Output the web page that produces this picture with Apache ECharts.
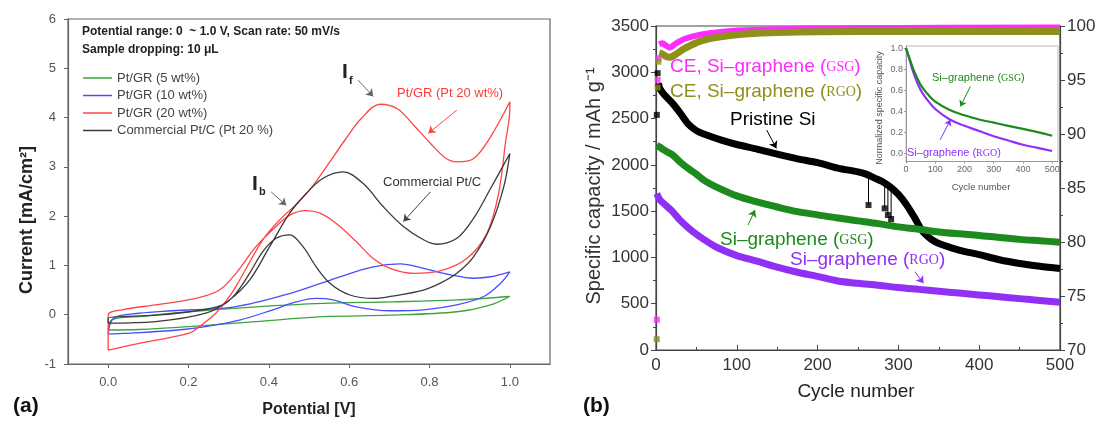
<!DOCTYPE html>
<html><head><meta charset="utf-8">
<script src="https://cdn.jsdelivr.net/npm/echarts@6/dist/echarts.min.js"></script>
<style>html,body{margin:0;padding:0;background:#fff}#c{width:1099px;height:421px}</style>
</head><body><div id="c"></div>
<script>
// ---------- Panel (a): cyclic voltammograms [potential V, current mA/cm2] ----------
const pt5Fwd  = [[0,-0.31],[0.01,-0.1],[0.077,-0.04],[0.202,0.06],[0.368,0.16],[0.535,0.23],[0.702,0.26],[0.868,0.30],[1.0,0.37]];
const pt5Rev  = [[0.952,0.20],[0.868,0.06],[0.702,-0.01],[0.535,-0.04],[0.368,-0.14],[0.202,-0.24],[0.077,-0.30],[0,-0.31]];
const pt10Fwd = [[0,-0.39],[0.014,-0.07],[0.077,0.03],[0.16,0.08],[0.315,0.16],[0.452,0.43],[0.577,0.77],[0.66,0.97],[0.727,1.03],[0.785,0.94],[0.852,0.81],[0.91,0.74],[0.952,0.77],[1.0,0.87]];
const pt10Rev = [[0.977,0.64],[0.935,0.37],[0.868,0.20],[0.785,0.10],[0.702,0.08],[0.618,0.16],[0.56,0.30],[0.518,0.33],[0.468,0.26],[0.41,0.10],[0.327,-0.11],[0.243,-0.24],[0.16,-0.32],[0.035,-0.38],[0,-0.39]];
const pt20Fwd = [[0,-0.72],[0.077,-0.58],[0.2,-0.38],[0.227,-0.24],[0.268,0.03],[0.302,0.37],[0.327,0.70],[0.385,1.52],[0.43,1.95],[0.47,2.25],[0.51,2.62],[0.55,3.08],[0.59,3.55],[0.63,3.98],[0.677,4.27],[0.72,4.18],[0.76,3.85],[0.802,3.48],[0.84,3.18],[0.868,3.10],[0.91,3.17],[0.952,3.61],[1.0,4.32]];
const pt20Rev = [[1.0,4.19],[0.989,3.48],[0.972,2.46],[0.943,1.65],[0.893,1.14],[0.827,0.89],[0.76,0.84],[0.702,0.94],[0.66,1.14],[0.618,1.48],[0.568,1.85],[0.527,2.06],[0.49,2.11],[0.452,2.02],[0.418,1.79],[0.368,1.38],[0.318,0.84],[0.277,0.50],[0.218,0.33],[0.118,0.20],[0.035,0.10],[0,-0.01],[0,-0.72]];
const ptcFwd  = [[0,-0.17],[0.118,-0.14],[0.243,0.03],[0.302,0.30],[0.352,0.70],[0.402,1.38],[0.452,2.06],[0.493,2.46],[0.535,2.77],[0.585,2.90],[0.635,2.66],[0.685,2.19],[0.735,1.79],[0.785,1.52],[0.818,1.43],[0.868,1.55],[0.91,1.96],[0.952,2.56],[1.0,3.27]];
const ptcRev  = [[0.985,2.60],[0.952,1.79],[0.91,1.18],[0.868,0.84],[0.827,0.64],[0.785,0.50],[0.702,0.37],[0.66,0.33],[0.602,0.40],[0.552,0.64],[0.518,0.97],[0.485,1.38],[0.452,1.62],[0.418,1.55],[0.385,1.28],[0.352,0.84],[0.318,0.43],[0.285,0.20],[0.202,0.06],[0.118,-0.01],[0,-0.07],[0,-0.17]];
const cvNames = ['Pt/GR (5 wt%)','Pt/GR (10 wt%)','Pt/GR (20 wt%)','Commercial Pt/C (Pt 20 %)'];
const cvXTicks = [0,0.2,0.4,0.6,0.8,1.0];

// ---------- Panel (b): cycling [cycle, capacity mAh/g] and CE [cycle, %] ----------
const pristineSi   = [[3,2880],[5,2820],[10,2760],[20,2670],[30,2560],[40,2440],[50,2370],[60,2330],[80,2270],[100,2220],[125,2170],[150,2115],[175,2065],[200,2025],[225,1965],[250,1925],[260,1900],[270,1860],[280,1820],[290,1760],[300,1680],[310,1570],[320,1430],[330,1280],[340,1200],[350,1150],[375,1080],[400,1030],[425,975],[450,935],[475,905],[500,880]];
const pristineEarly = [[1,2540],[2,2990]];
const pristineDrops = [[263,1880,1566],[283,1805,1530],[287,1785,1458],[291,1755,1415]]; // [cycle, band value, dropped value]
const siGSG = [[1,2210],[5,2190],[10,2160],[20,2110],[30,2030],[40,1960],[50,1900],[60,1830],[75,1760],[100,1665],[125,1600],[150,1545],[175,1495],[200,1460],[225,1425],[250,1395],[275,1365],[300,1330],[325,1305],[350,1275],[375,1255],[400,1238],[425,1215],[450,1195],[475,1180],[500,1165]];
const siRGO = [[1,1690],[5,1620],[10,1580],[20,1500],[30,1400],[40,1320],[50,1250],[60,1190],[75,1110],[100,1020],[125,960],[150,895],[175,840],[200,795],[225,745],[250,720],[275,700],[300,675],[325,655],[350,635],[375,615],[400,595],[425,575],[450,555],[475,535],[500,515]];
const ceGSG = [[4,98.3],[8,98.4],[12,98.2],[17,98.0],[25,98.4],[35,98.8],[55,99.2],[80,99.45],[110,99.6],[150,99.7],[250,99.8],[500,99.85]];
const ceGSGEarly = [[1,72.8],[2,95.0],[3,97.0]];
const ceRGO = [[4,97.5],[8,97.4],[12,97.2],[17,97.1],[25,97.4],[35,97.9],[55,98.6],[80,99.0],[110,99.25],[150,99.4],[250,99.5],[500,99.5]];
const ceRGOEarly = [[1,71.0],[2,94.3],[3,96.7]];

// ---------- Inset: normalized capacity ----------
const insetCycles = [0,10,25,50,75,100,150,200,250,300,350,400,450,500];
const insetGSG = [1.0,0.92,0.80,0.65,0.56,0.49,0.41,0.36,0.32,0.29,0.26,0.23,0.20,0.165];
const insetRGO = [1.0,0.91,0.77,0.60,0.50,0.42,0.32,0.26,0.21,0.16,0.12,0.08,0.05,0.02];
const insetTicksY = [0,0.2,0.4,0.6,0.8,1.0];
const insetTicksX = [0,100,200,300,400,500];

const FONT = '"Liberation Sans", Arial, Helvetica, sans-serif';
const C = {green:'#3aa53a', blue:'#4b4bff', red:'#ff4545', black:'#3a3a3a',
  magenta:'#ff2cff', olive:'#8f8f1c', dgreen:'#1c8a1c', purple:'#9030f5'};

const zip = (xs, ys) => xs.map((x,i)=>[x, ys[i]]);
const spikes = [];
pristineDrops.forEach(d => { spikes.push([d[0], d[1]], [d[0], d[2]], [d[0], '-']); });

function txt(x, y, text, o) {
  const r = {type:'text', x, y, z:100, silent:true,
    style: Object.assign({text, fill:'#222', fontSize:13, fontFamily:FONT, align:'left', verticalAlign:'middle'}, o || {})};
  if (o && o.rotation !== undefined) { r.rotation = o.rotation; delete r.style.rotation; }
  return r;
}
function rich(main, sc, color, size, scSize) {
  return {text: '{a|' + main + '}{b|' + sc + '}{a|)}', fill: color,
    rich: {a:{fontSize:size, fontFamily:FONT, fill:color}, b:{fontSize:scSize, fontFamily:'"Liberation Serif", "DejaVu Serif", serif', fill:color}}};
}
const arrow = (p1, p2, color) => [{coord:p1, lineStyle:{color, width:1, type:'solid'}}, {coord:p2}];

const cvLine = (name, data, color) => ({
  name, type:'line', xAxisIndex:0, yAxisIndex:0, data, smooth:0.35, showSymbol:false,
  lineStyle:{color, width:1.3}, itemStyle:{color}, z:3
});
const band = (name, data, color, yIdx, w) => ({
  name, type:'line', xAxisIndex:1, yAxisIndex:yIdx, data, smooth:0.3, showSymbol:false,
  lineStyle:{color, width:w || 7}, itemStyle:{color}, z:3
});
const dots = (name, data, color, yIdx) => ({
  name, type:'scatter', xAxisIndex:1, yAxisIndex:yIdx, data, symbol:'rect', symbolSize:6,
  itemStyle:{color}, z:4
});
const plain = v => String(v);

const chart = echarts.init(document.getElementById('c'));
chart.setOption({
  animation:false,
  backgroundColor:'#fff',
  textStyle:{fontFamily:FONT},
  grid:[
    {left:68, top:19, width:482, height:345, show:true, borderColor:'#666', borderWidth:1.2, backgroundColor:'transparent'},
    {left:656, top:26, width:404, height:324, show:true, borderColor:'#444', borderWidth:1.2, backgroundColor:'transparent'},
    {left:906, top:46, width:152, height:115.5, show:true, borderColor:'#bbb', borderWidth:1, backgroundColor:'#fff', z:5}
  ],
  legend:{data:cvNames, orient:'vertical', left:78, top:66, icon:'rect', itemWidth:29, itemHeight:1.5, itemGap:3.5,
    selectedMode:false, textStyle:{fontSize:13, color:'#444', fontFamily:FONT, lineHeight:14}},
  xAxis:[
    {gridIndex:0, type:'value', min:-0.1, max:1.1,
      axisLine:{show:true, onZero:false, lineStyle:{color:'#666', width:1.2}},
      axisTick:{show:true, customValues:cvXTicks, length:4, lineStyle:{color:'#666'}},
      axisLabel:{customValues:cvXTicks, formatter:v=>Number(v).toFixed(1), color:'#555', fontSize:13, margin:12, fontFamily:FONT},
      splitLine:{show:false}},
    {gridIndex:1, type:'value', min:0, max:500, interval:100,
      axisLine:{show:true, onZero:false, lineStyle:{color:'#444', width:1.2}},
      axisTick:{show:true, inside:true, length:5, lineStyle:{color:'#444'}},
      minorTick:{show:true, splitNumber:2, length:3, lineStyle:{color:'#444'}},
      axisLabel:{color:'#333', fontSize:17, margin:7, fontFamily:FONT, formatter:plain},
      splitLine:{show:false}},
    {gridIndex:2, type:'value', min:0, max:520, z:6,
      axisLine:{show:true, onZero:false, lineStyle:{color:'#999'}},
      axisTick:{show:true, customValues:insetTicksX, length:2, lineStyle:{color:'#999'}},
      axisLabel:{customValues:insetTicksX, color:'#666', fontSize:9, margin:4, fontFamily:FONT, formatter:plain},
      splitLine:{show:false}}
  ],
  yAxis:[
    {gridIndex:0, type:'value', min:-1, max:6, interval:1,
      axisLine:{show:true, onZero:false, lineStyle:{color:'#666', width:1.2}},
      axisTick:{show:true, length:4, lineStyle:{color:'#666'}},
      axisLabel:{color:'#555', fontSize:13, margin:12, fontFamily:FONT},
      splitLine:{show:false}},
    {gridIndex:1, type:'value', min:0, max:3500, interval:500,
      axisLine:{show:true, onZero:false, lineStyle:{color:'#444', width:1.2}},
      axisTick:{show:true, length:5, lineStyle:{color:'#444'}},
      minorTick:{show:true, splitNumber:2, length:3, lineStyle:{color:'#444'}},
      axisLabel:{color:'#333', fontSize:17, margin:7, fontFamily:FONT, formatter:plain},
      splitLine:{show:false}},
    {gridIndex:1, type:'value', position:'right', min:70, max:100, interval:5,
      axisLine:{show:true, onZero:false, lineStyle:{color:'#444', width:1.2}},
      axisTick:{show:true, length:5, lineStyle:{color:'#444'}},
      minorTick:{show:true, splitNumber:2, length:3, lineStyle:{color:'#444'}},
      axisLabel:{color:'#333', fontSize:17, margin:7, fontFamily:FONT, formatter:plain},
      splitLine:{show:false}},
    {gridIndex:2, type:'value', min:-0.08, max:1.02, z:6,
      axisLine:{show:true, onZero:false, lineStyle:{color:'#999'}},
      axisTick:{show:true, customValues:insetTicksY, length:2, lineStyle:{color:'#999'}},
      axisLabel:{customValues:insetTicksY, formatter:v=>Number(v).toFixed(1), color:'#666', fontSize:9, margin:3, fontFamily:FONT},
      splitLine:{show:false}}
  ],
  series:[
    Object.assign(cvLine(cvNames[0], pt5Fwd.concat(pt5Rev), C.green), {
      markLine:{silent:true, symbol:['none','arrow'], symbolSize:7, animation:false, label:{show:false},
        data:[
          arrow([0.622,4.76],[0.66,4.43],'#666'),
          arrow([0.868,4.15],[0.797,3.68],C.red),
          arrow([0.406,2.49],[0.4435,2.22],'#666'),
          arrow([0.802,2.49],[0.735,1.89],'#444')
        ]}
    }),
    cvLine(cvNames[1], pt10Fwd.concat(pt10Rev), C.blue),
    cvLine(cvNames[2], pt20Fwd.concat(pt20Rev), C.red),
    cvLine(cvNames[3], ptcFwd.concat(ptcRev), C.black),

    band('CE GSG', ceGSG, C.magenta, 2, 6),
    dots('CE GSG early', ceGSGEarly, C.magenta, 2),
    band('CE RGO', ceRGO, C.olive, 2, 7),
    dots('CE RGO early', ceRGOEarly, C.olive, 2),
    band('Si-graphene RGO', siRGO, C.purple, 1),
    Object.assign(band('Pristine Si', pristineSi, '#000', 1), {
      markLine:{silent:true, symbol:['none','arrow'], symbolSize:7, animation:false, label:{show:false},
        data:[
          arrow([137,2376],[149,2178],'#000'),
          arrow([114,1350],[122.5,1512],C.dgreen),
          arrow([320.5,846],[331,720],C.purple)
        ]}
    }),
    {name:'Pristine drops', type:'line', xAxisIndex:1, yAxisIndex:1, data:spikes, showSymbol:false,
      connectNulls:false, lineStyle:{color:'#000', width:1}, z:3},
    dots('Pristine drop pts', pristineDrops.map(d=>[d[0], d[2]]), '#000', 1),
    dots('Pristine early', pristineEarly, '#000', 1),
    band('Si-graphene GSG', siGSG, C.dgreen, 1),

    {name:'inset GSG', type:'line', xAxisIndex:2, yAxisIndex:3, data:zip(insetCycles, insetGSG), smooth:0.4, showSymbol:false,
      lineStyle:{color:C.dgreen, width:2.2}, z:8,
      markLine:{silent:true, symbol:['none','arrow'], symbolSize:6, animation:false, label:{show:false},
        data:[arrow([220,0.634],[186,0.444],C.dgreen), arrow([117,0.127],[152,0.317],C.purple)]}},
    {name:'inset RGO', type:'line', xAxisIndex:2, yAxisIndex:3, data:zip(insetCycles, insetRGO), smooth:0.4, showSymbol:false,
      lineStyle:{color:C.purple, width:2.2}, z:7}
  ],
  graphic:[
    // panel (a)
    txt(82, 32, 'Potential range: 0  ~ 1.0 V, Scan rate: 50 mV/s', {fontWeight:'bold', fontSize:12, fill:'#222'}),
    txt(82, 49.5, 'Sample dropping: 10 \u03bcL', {fontWeight:'bold', fontSize:12, fill:'#222'}),
    txt(342, 72, 'I', {fontWeight:'bold', fontSize:21, fill:'#222'}),
    txt(349, 81, 'f', {fontWeight:'bold', fontSize:11, fill:'#222'}),
    txt(252, 184, 'I', {fontWeight:'bold', fontSize:21, fill:'#222'}),
    txt(259, 192, 'b', {fontWeight:'bold', fontSize:11, fill:'#222'}),
    txt(397, 93, 'Pt/GR (Pt 20 wt%)', {fontSize:13, fill:'#ff3a3a'}),
    txt(383, 182, 'Commercial Pt/C', {fontSize:13, fill:'#333'}),
    txt(309, 410, 'Potential [V]', {fontWeight:'bold', fontSize:16, align:'center'}),
    txt(27, 220, 'Current [mA/cm\u00b2]', {fontWeight:'bold', fontSize:18, align:'center', rotation:Math.PI/2}),
    txt(13, 406, '(a)', {fontWeight:'bold', fontSize:21, fill:'#111'}),
    // panel (b)
    {type:'text', x:670, y:67, z:100, silent:true, style:Object.assign({align:'left', verticalAlign:'middle'}, rich('CE, Si\u2013graphene (', 'GSG', C.magenta, 19, 14))},
    {type:'text', x:670, y:92, z:100, silent:true, style:Object.assign({align:'left', verticalAlign:'middle'}, rich('CE, Si\u2013graphene (', 'RGO', C.olive, 19, 14))},
    txt(730, 120, 'Pristine Si', {fontSize:19, fill:'#000'}),
    {type:'text', x:720, y:240, z:100, silent:true, style:Object.assign({align:'left', verticalAlign:'middle'}, rich('Si\u2013graphene (', 'GSG', C.dgreen, 19, 14))},
    {type:'text', x:790, y:260, z:100, silent:true, style:Object.assign({align:'left', verticalAlign:'middle'}, rich('Si\u2013graphene (', 'RGO', C.purple, 19, 14))},
    txt(856, 392, 'Cycle number', {fontSize:19, fill:'#222', align:'center'}),
    txt(594, 186, 'Specific capacity / mAh g\u207b\u00b9', {fontSize:20, fill:'#333', align:'center', rotation:Math.PI/2}),
    txt(583, 406, '(b)', {fontWeight:'bold', fontSize:21, fill:'#111'}),
    // inset
    txt(880, 108, 'Normalized specific capacity', {fontSize:9, fill:'#555', align:'center', rotation:Math.PI/2}),
    txt(981, 187, 'Cycle number', {fontSize:9.5, fill:'#555', align:'center'}),
    {type:'text', x:932, y:78, z:100, silent:true, style:Object.assign({align:'left', verticalAlign:'middle'}, rich('Si\u2013graphene (', 'GSG', C.dgreen, 11, 10))},
    {type:'text', x:907, y:153, z:100, silent:true, style:Object.assign({align:'left', verticalAlign:'middle'}, rich('Si\u2013graphene (', 'RGO', C.purple, 11, 10))}
  ]
});
</script></body></html>
